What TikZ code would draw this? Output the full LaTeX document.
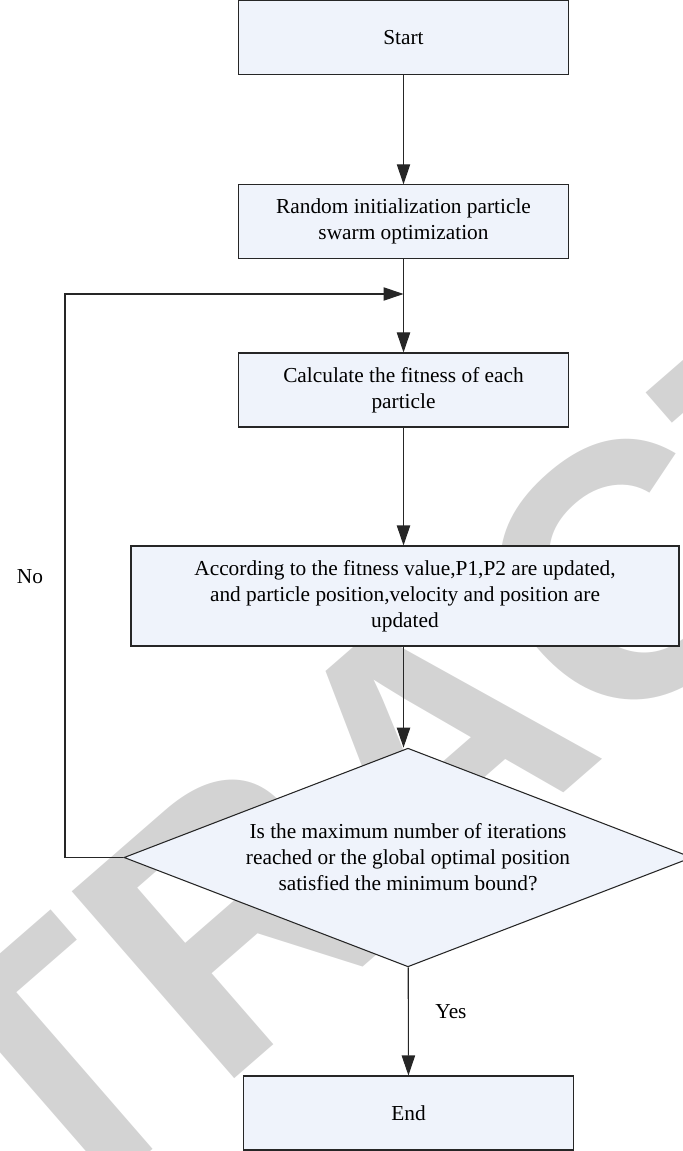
\documentclass[tikz,border=0pt]{standalone}
\usepackage{fontspec}
\setmainfont{Liberation Serif}
\newfontfamily\markfont{Liberation Sans}
\usetikzlibrary{shapes.geometric,arrows.meta}

\definecolor{boxfill}{RGB}{239,243,251}
\definecolor{markgray}{RGB}{211,211,211}

\begin{document}
\begin{tikzpicture}[x=0.75pt,y=0.75pt,yscale=-1,xscale=1,
  procbox/.style={draw=black!85,fill=boxfill,line width=0.8pt,align=center,inner sep=0pt,minimum height=55pt,font=\fontsize{16}{19.5}\selectfont},
  decision/.style={diamond,draw=black!85,fill=boxfill,line width=0.8pt,align=center,inner sep=0pt,aspect=2.6,font=\fontsize{16}{19.5}\selectfont},
  flowline/.style={draw=black!85,line width=0.8pt,-{Triangle[length=15pt,width=10pt]}},
  plainlabel/.style={inner sep=0pt,font=\fontsize{16}{19.5}\selectfont}]
%set diagram from 0 to 682, height 1151
\useasboundingbox (0,0) rectangle (682,1151);
% Watermark
\node [rotate=41,text=markgray,inner sep=0pt,font=\markfont\bfseries\fontsize{270}{270}\selectfont] (watermark) at (430,745) {RETRACTED};
% Text Node
\node [procbox,minimum width=248pt] (start) at (403.5,37.5) {Start};
% Text Node
\node [procbox,minimum width=248pt] (init) at (403.5,221.5) {Random initialization particle\\swarm optimization};
% Text Node
\node [procbox,minimum width=248pt,minimum height=55.5pt] (fitness) at (403.5,390) {Calculate the fitness of each\\particle};
% Text Node
\node [procbox,minimum width=411pt,minimum height=75pt] (update) at (405,596) {According to the fitness value,P1,P2 are updated,\\and particle position,velocity and position are\\updated};
% Diamond
\node [decision,minimum width=426pt,minimum height=164pt] (check) at (408,857.5) {Is the maximum number of iterations\\reached or the global optimal position\\satisfied the minimum bound?};
% Text Node
\node [procbox,minimum width=247pt,minimum height=55.5pt] (finish) at (408.5,1113) {End};
% Text Node
\node [plainlabel] (nolabel) at (30,577) {No};
% Text Node
\node [plainlabel] (yeslabel) at (451,1012) {Yes};
\coordinate (merge) at (403.5,294);
\coordinate (nocorner) at (65,294);
%Straight Lines
\draw [flowline] (start) -- (init);
\draw [flowline] (init) -- (fitness);
\draw [flowline] (fitness) -- (fitness |- update.north);
\draw [flowline] (fitness |- update.south) -- (fitness |- check.north);
\draw [flowline] (check) -- (finish);
\draw [flowline] (check.west) -| (nocorner) -- (merge);
\end{tikzpicture}
\end{document}
